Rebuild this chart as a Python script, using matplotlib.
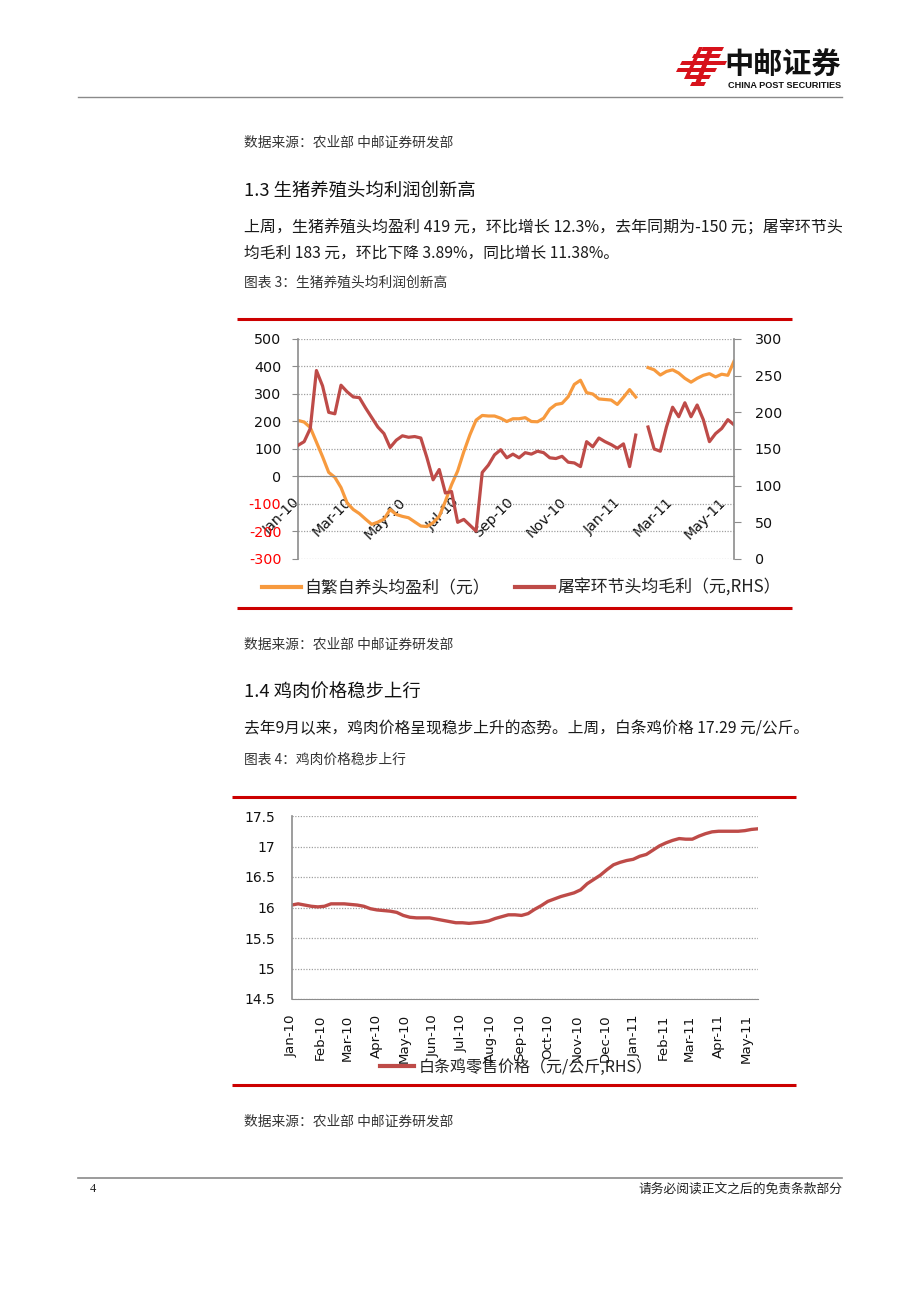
import matplotlib
matplotlib.use('Agg')
import matplotlib.pyplot as plt
import numpy as np
import pandas as pd
from matplotlib.patches import Polygon
from matplotlib.lines import Line2D

plt.rcParams['font.family'] = ['DejaVu Sans']
CJK = ['Noto Sans CJK SC', 'DejaVu Sans']

# ---------------- data ----------------
weeks = pd.date_range('2010-01-01', periods=72, freq='7D')

hog_profit = [204, 198, 178, 125, 72, 15, -3, -40, -96, -120,
              -135, -155, -174, -166, -155, -120, -138, -145, -150, -165,
              -180, -182, -168, -145, -90, -30, 20, 90, 152, 205,
              222, 220, 220, 212, 200, 210, 210, 214, 200, 199,
              212, 245, 262, 266, 290, 335, 350, 305, 300, 282,
              280, 278, 262, 288, 316, 289, np.nan, 396, 388, 369,
              382, 388, 376, 357, 343, 357, 368, 374, 362, 372,
              368, 419]

slaughter_margin = [155, 160, 178, 257, 236, 200, 198, 237, 228, 221,
                    220, 206, 193, 180, 171, 152, 162, 168, 166, 167,
                    165, 138, 108, 122, 90, 92, 50, 54, 46, 38,
                    118, 128, 142, 149, 138, 143, 138, 145, 143, 147,
                    145, 138, 137, 140, 132, 131, 126, 160, 153, 165,
                    160, 156, 151, 157, 126, 169, np.nan, 180, 150, 147,
                    180, 207, 194, 213, 194, 210, 190, 160, 171, 178,
                    190, 183]

chicken_price = [16.04, 16.06, 16.04, 16.02, 16.01, 16.02, 16.06, 16.06, 16.06, 16.05,
                 16.04, 16.02, 15.98, 15.96, 15.95, 15.94, 15.92, 15.87, 15.84, 15.83,
                 15.83, 15.83, 15.81, 15.79, 15.77, 15.75, 15.75, 15.74, 15.75, 15.76,
                 15.78, 15.82, 15.85, 15.88, 15.88, 15.87, 15.90, 15.97, 16.03, 16.10,
                 16.14, 16.18, 16.21, 16.24, 16.29, 16.39, 16.46, 16.53, 16.62, 16.70,
                 16.74, 16.77, 16.79, 16.84, 16.87, 16.94, 17.01, 17.06, 17.10, 17.13,
                 17.12, 17.12, 17.17, 17.21, 17.24, 17.25, 17.25, 17.25, 17.25, 17.26,
                 17.28, 17.29]

tick_dates_1 = ['2010-01-01', '2010-03-01', '2010-05-01', '2010-07-01', '2010-09-01',
                '2010-11-01', '2011-01-01', '2011-03-01', '2011-05-01']
tick_labels_1 = ['Jan-10', 'Mar-10', 'May-10', 'Jul-10', 'Sep-10',
                 'Nov-10', 'Jan-11', 'Mar-11', 'May-11']
left_ticks_1 = [-300, -200, -100, 0, 100, 200, 300, 400, 500]
right_ticks_1 = [0, 50, 100, 150, 200, 250, 300]

tick_dates_2 = ['2010-01-01', '2010-02-01', '2010-03-01', '2010-04-01', '2010-05-01',
                '2010-06-01', '2010-07-01', '2010-08-01', '2010-09-01', '2010-10-01',
                '2010-11-01', '2010-12-01', '2011-01-01', '2011-02-01', '2011-03-01',
                '2011-04-01', '2011-05-01']
tick_labels_2 = ['Jan-10', 'Feb-10', 'Mar-10', 'Apr-10', 'May-10', 'Jun-10', 'Jul-10',
                 'Aug-10', 'Sep-10', 'Oct-10', 'Nov-10', 'Dec-10', 'Jan-11', 'Feb-11',
                 'Mar-11', 'Apr-11', 'May-11']
y_ticks_2 = [14.5, 15, 15.5, 16, 16.5, 17, 17.5]
y_labels_2 = ['14.5', '15', '15.5', '16', '16.5', '17', '17.5']

legend_1 = ['自繁自养头均盈利（元）', '屠宰环节头均毛利（元,RHS）']
legend_2 = ['白条鸡零售价格（元/公斤,RHS）']

ORANGE = '#F79A3E'
RED_LINE = '#BE4B48'
RULE_RED = '#CC0000'
AXIS_GRAY = '#8C8C8C'
GRID_GRAY = '#A0A0A0'

W, H = 920, 1302
fig = plt.figure(figsize=(W / 100, H / 100), dpi=100)

# ---------------- page overlay (pixel coordinates) ----------------
page = fig.add_axes([0, 0, 1, 1])
page.set_xlim(0, W)
page.set_ylim(H, 0)
page.axis('off')


def ptext(x, y, s, size, color='#1a1a1a', ha='left', weight='normal', family=CJK):
    page.text(x, y, s, fontsize=size, color=color, ha=ha, va='center',
              family=family, fontweight=weight)


# header logo
logo_polys = [
    [(703, 47), (724, 47), (722, 51), (701, 51)],
    [(694, 54), (721, 54), (719, 58), (692, 58)],
    [(682, 61), (727, 61), (725, 65), (680, 65)],
    [(678, 68), (717, 68), (715, 72), (676, 72)],
    [(688, 75), (711, 75), (709, 79), (686, 79)],
    [(692, 82), (706, 82), (704, 86), (690, 86)],
    [(709, 47), (714, 47), (699, 86), (694, 86)],
    [(699, 47), (703, 47), (688, 79), (684, 79)],
]
for poly in logo_polys:
    page.add_patch(Polygon(poly, closed=True, facecolor='#D7121B', edgecolor='none'))
ptext(724, 65, '中邮证券', 21, color='#111111', weight='bold')
ptext(728, 86, 'CHINA POST SECURITIES', 6.6, color='#111111', weight='bold',
      family=['Liberation Sans', 'DejaVu Sans'])
page.plot([78, 842], [97, 97], color='#8a8a8a', lw=1.0)

# text blocks
ptext(244, 143, '数据来源：农业部 中邮证券研发部', 9.9, color='#333333')
ptext(244, 191, '1.3 生猪养殖头均利润创新高', 13.2, color='#111111')
ptext(244, 228, '上周，生猪养殖头均盈利 419 元，环比增长 12.3%，去年同期为-150 元；屠宰环节头', 11.5)
ptext(244, 253, '均毛利 183 元，环比下降 3.89%，同比增长 11.38%。', 11.3)
ptext(244, 283, '图表 3：生猪养殖头均利润创新高', 9.9, color='#333333')

page.plot([237, 792], [319, 319], color=RULE_RED, lw=2.2, solid_capstyle='butt')
page.plot([237, 792], [608, 608], color=RULE_RED, lw=2.2, solid_capstyle='butt')

ptext(244, 645, '数据来源：农业部 中邮证券研发部', 9.9, color='#333333')
ptext(244, 693, '1.4 鸡肉价格稳步上行', 13.2, color='#111111')
ptext(244, 729, '去年9月以来，鸡肉价格呈现稳步上升的态势。上周，白条鸡价格 17.29 元/公斤。', 11.3)
ptext(244, 760, '图表 4：鸡肉价格稳步上行', 9.9, color='#333333')

page.plot([232, 796], [797, 797], color=RULE_RED, lw=2.2, solid_capstyle='butt')
page.plot([232, 796], [1085, 1085], color=RULE_RED, lw=2.2, solid_capstyle='butt')

ptext(244, 1122, '数据来源：农业部 中邮证券研发部', 9.9, color='#333333')

page.plot([78, 842], [1178, 1178], color='#8a8a8a', lw=1.2)
ptext(90, 1189, '4', 9, color='#222222', family=['Liberation Serif', 'DejaVu Serif'])
ptext(842, 1189, '请务必阅读正文之后的免责条款部分', 9.2, color='#222222', ha='right')

# ---------------- chart 1 ----------------
ax1 = fig.add_axes([298 / W, 1 - 559 / H, 436 / W, 220 / H])
ax1.set_facecolor('none')
ax1.plot(weeks, hog_profit, color=ORANGE, lw=2.3, solid_joinstyle='round')
ax1.set_xlim(weeks[0], weeks[-1])
ax1.set_ylim(-300, 500)
ax1.set_yticks(left_ticks_1)
ax1.set_yticklabels([str(v) for v in left_ticks_1])
for v, lbl in zip(left_ticks_1, ax1.get_yticklabels()):
    lbl.set_color('#FF0000' if v < 0 else '#111111')
ax1.grid(axis='y', color=GRID_GRAY, ls=(0, (1, 1.2)), lw=0.9)
ax1.spines['top'].set_visible(False)
ax1.spines['right'].set_visible(False)
ax1.spines['bottom'].set_position(('data', 0))
ax1.spines['bottom'].set_color(AXIS_GRAY)
ax1.spines['left'].set_color(AXIS_GRAY)
ax1.spines['left'].set_linewidth(1.2)
ax1.set_xticks(pd.to_datetime(tick_dates_1))
ax1.set_xticklabels(tick_labels_1)
ax1.tick_params(axis='x', length=0, pad=17, labelsize=10.2, colors='#111111')
ax1.tick_params(axis='y', length=4, color=AXIS_GRAY, pad=8, labelsize=10.3)
for lbl in ax1.get_xticklabels():
    lbl.set_rotation(45)
    lbl.set_ha('right')
    lbl.set_va('center')
    lbl.set_rotation_mode('anchor')

ax2 = ax1.twinx()
ax2.plot(weeks, slaughter_margin, color=RED_LINE, lw=2.3, solid_joinstyle='round')
ax2.set_ylim(0, 300)
ax2.set_yticks(right_ticks_1)
ax2.set_yticklabels([str(v) for v in right_ticks_1])
for s in ['top', 'bottom', 'left']:
    ax2.spines[s].set_visible(False)
ax2.spines['right'].set_color(AXIS_GRAY)
ax2.spines['right'].set_linewidth(1.2)
ax2.tick_params(axis='y', length=5, color=AXIS_GRAY, pad=10, labelsize=10.3, colors='#111111')
ax2.tick_params(axis='y', color=AXIS_GRAY)

fig.legend(handles=[Line2D([], [], color=ORANGE, lw=3), Line2D([], [], color=RED_LINE, lw=3)],
           labels=legend_1, loc='center left', bbox_to_anchor=(262 / W, 1 - 588 / H),
           ncol=2, frameon=False, prop={'family': CJK, 'size': 12.2},
           handlelength=2.3, handletextpad=0.2, columnspacing=1.5,
           borderpad=0, borderaxespad=0, labelcolor='#222222')

# ---------------- chart 2 ----------------
ax3 = fig.add_axes([291.6 / W, 1 - 999 / H, 466.4 / W, 183 / H])
ax3.set_facecolor('none')
ax3.plot(weeks, chicken_price, color=RED_LINE, lw=2.4, solid_joinstyle='round')
ax3.set_xlim(weeks[0], weeks[-1])
ax3.set_ylim(14.5, 17.5)
ax3.set_yticks(y_ticks_2)
ax3.set_yticklabels(y_labels_2)
ax3.grid(axis='y', color=GRID_GRAY, ls=(0, (1, 1.2)), lw=0.9)
ax3.spines['top'].set_visible(False)
ax3.spines['right'].set_visible(False)
ax3.spines['bottom'].set_color(AXIS_GRAY)
ax3.spines['left'].set_color(AXIS_GRAY)
ax3.spines['left'].set_linewidth(1.2)
ax3.set_xticks(pd.to_datetime(tick_dates_2))
ax3.set_xticklabels(tick_labels_2, rotation=90)
ax3.tick_params(axis='x', length=0, pad=11, labelsize=9.6, colors='#111111')
ax3.tick_params(axis='y', length=0, pad=12, labelsize=10, colors='#111111')

fig.legend(handles=[Line2D([], [], color=RED_LINE, lw=3)],
           labels=legend_2, loc='center left', bbox_to_anchor=(380 / W, 1 - 1067 / H),
           frameon=False, prop={'family': CJK, 'size': 11.5},
           handlelength=2.1, handletextpad=0.3,
           borderpad=0, borderaxespad=0, labelcolor='#222222')

fig.savefig('out.png', dpi=100, facecolor='white')
